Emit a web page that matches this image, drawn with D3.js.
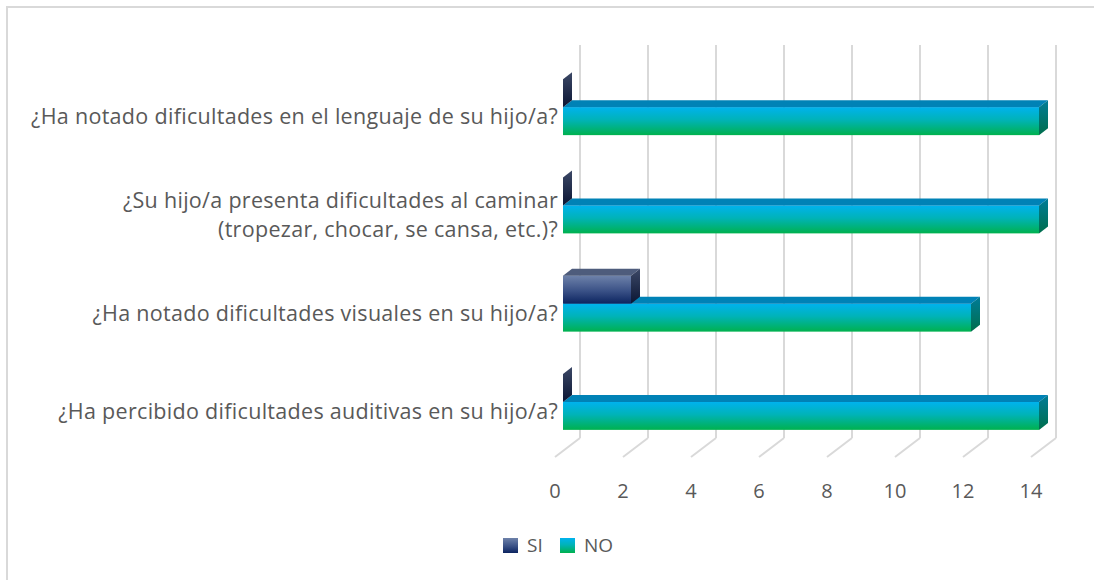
<!DOCTYPE html>
<html>
<head>
<meta charset="utf-8">
<script src="https://cdn.jsdelivr.net/npm/d3@7"></script>
<style>
  body { margin: 0; background: #fff; }
  svg { display: block; }
</style>
</head>
<body>
<div id="chart"></div>
<script>
// Data
const categories = [
    ["¿Ha notado dificultades en el lenguaje de su hijo/a?"],
    ["¿Su hijo/a presenta dificultades al caminar", "(tropezar, chocar, se cansa, etc.)?"],
    ["¿Ha notado dificultades visuales en su hijo/a?"],
    ["¿Ha percibido dificultades auditivas en su hijo/a?"]
];
const seriesNames = ["SI", "NO"];
const siValues = [0, 0, 2, 0];
const noValues = [14, 14, 12, 14];
const xTicks = [0, 2, 4, 6, 8, 10, 12, 14];

let width = 1094, height = 580;
let font = "'Open Sans', sans-serif";
let textColor = "#595959";

let svg = d3.select("#chart").append("svg")
    .attr("width", width)
    .attr("height", height);

// chart border
svg.append("rect")
    .attr("x", 7).attr("y", 7)
    .attr("width", width).attr("height", height)
    .attr("fill", "#fff")
    .attr("stroke", "#d9d9d9")
    .attr("stroke-width", 2);

// gradients
let defs = svg.append("defs");
function grad(id, stops) {
    let g = defs.append("linearGradient").attr("id", id)
        .attr("x1", 0).attr("y1", 0).attr("x2", 0).attr("y2", 1);
    stops.forEach(s => g.append("stop").attr("offset", s[0]).attr("stop-color", s[1]));
}
grad("siFront", [["0%", "#6e82aa"], ["55%", "#3a5186"], ["100%", "#0c2460"]]);
grad("siSide", [["0%", "#3c4866"], ["100%", "#0b1634"]]);
grad("noFront", [["0%", "#00b2ee"], ["45%", "#00b3b8"], ["100%", "#00b14e"]]);
grad("noSide", [["0%", "#007c98"], ["100%", "#006e4c"]]);

let styles = {
    SI: {front: "url(#siFront)", top: "#4e5c7c", side: "url(#siSide)"},
    NO: {front: "url(#noFront)", top: "#0082b6", side: "url(#noSide)"}
};

// Scales (bar plane)
let x = d3.scaleLinear().domain([0, 14]).range([563, 1039]);
let y = d3.scaleBand().domain(d3.range(categories.length)).range([58, 451]);
let barH = 28;

// depth offsets
let depth = {dx: 9, dy: 7};        // bar depth
let back = {dx: 17, dy: -13};      // back wall from bar plane
let front = {dx: -8, dy: 6};       // front floor edge from bar plane

// Back wall gridlines and floor lines
let grid = svg.append("g").attr("stroke", "#d9d9d9").attr("stroke-width", 2).attr("fill", "none");
grid.selectAll(".wall")
    .data(xTicks)
    .join("line")
    .attr("x1", d => x(d) + back.dx).attr("x2", d => x(d) + back.dx)
    .attr("y1", 45).attr("y2", 451 + back.dy);
grid.selectAll(".floor")
    .data(xTicks)
    .join("line")
    .attr("class", "floor")
    .attr("x1", d => x(d) + back.dx).attr("y1", 451 + back.dy)
    .attr("x2", d => x(d) + front.dx).attr("y2", 451 + front.dy);

// Tick labels
svg.append("g")
    .selectAll("text")
    .data(xTicks)
    .join("text")
    .attr("x", d => x(d) + front.dx)
    .attr("y", 498)
    .attr("text-anchor", "middle")
    .style("font-family", font)
    .style("font-size", "20px")
    .attr("fill", textColor)
    .text(d => d);

// Category labels
let lineGap = 29;
let labels = svg.append("g")
    .style("font-family", font)
    .style("font-size", "21.5px")
    .style("letter-spacing", "0.3px")
    .attr("fill", textColor)
    .attr("text-anchor", "end");
categories.forEach((lines, i) => {
    let cy = y(i) + y.bandwidth() / 2 + 10;
    let t = labels.append("text")
        .attr("x", 558)
        .attr("y", cy - (lines.length - 1) * lineGap / 2 + 7);
    lines.forEach((l, j) => {
        t.append("tspan").attr("x", 558).attr("dy", j === 0 ? 0 : lineGap).text(l);
    });
});

// 3D box
function box(g, v, y0, st) {
    let x0 = x(0), x1 = x(v), y1 = y0 + barH;
    let dx = depth.dx, dy = depth.dy;
    if (v > 0) {
        g.append("rect")
            .attr("x", x0).attr("y", y0)
            .attr("width", x1 - x0).attr("height", barH)
            .attr("fill", st.front);
        g.append("path")
            .attr("d", `M${x0},${y0}L${x0 + dx},${y0 - dy}L${x1 + dx},${y0 - dy}L${x1},${y0}Z`)
            .attr("fill", st.top);
    }
    g.append("path")
        .attr("d", `M${x1},${y0}L${x1 + dx},${y0 - dy}L${x1 + dx},${y1 - dy}L${x1},${y1}Z`)
        .attr("fill", st.side);
}

let bars = svg.append("g");
categories.forEach((c, i) => {
    let cy = y(i) + y.bandwidth() / 2;
    let g = bars.append("g");
    box(g, noValues[i], cy, styles.NO);
    box(g, siValues[i], cy - barH, styles.SI);
});

// Legend
let legend = svg.append("g")
    .style("font-family", font)
    .style("font-size", "19px")
    .attr("fill", textColor);
let legendX = [503, 560];
seriesNames.forEach((s, i) => {
    legend.append("rect")
        .attr("x", legendX[i]).attr("y", 538)
        .attr("width", 15).attr("height", 15)
        .attr("fill", styles[s].front);
    legend.append("text")
        .attr("x", legendX[i] + 24).attr("y", 552)
        .text(s);
});
</script>
</body>
</html>
